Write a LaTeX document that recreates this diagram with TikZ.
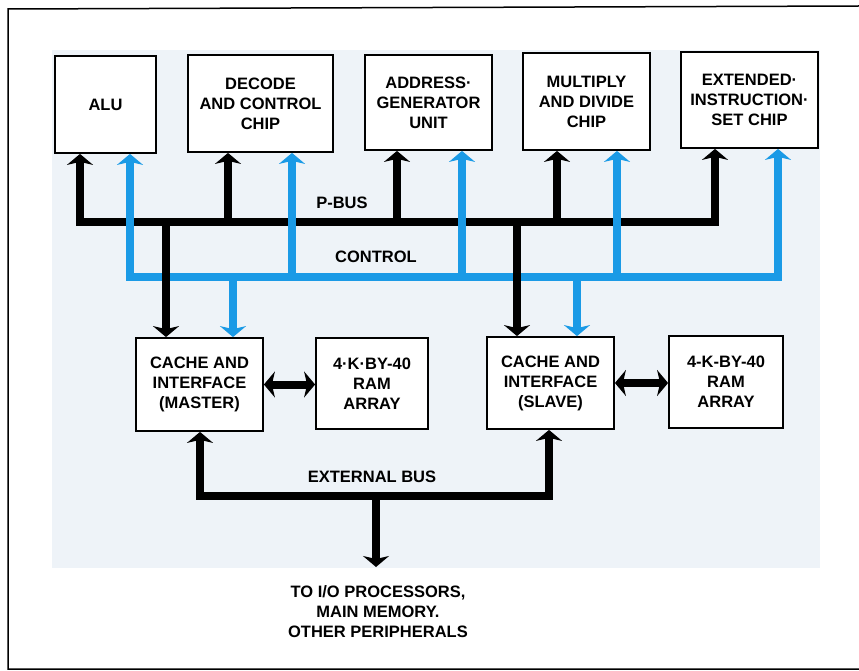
\documentclass[tikz,border=0pt]{standalone}
\usepackage{fontspec}
\setmainfont{Liberation Sans}
\usetikzlibrary{arrows.meta}
\definecolor{cblue}{RGB}{26,154,230}
\definecolor{panel}{RGB}{238,243,248}
\begin{document}
\begin{tikzpicture}[x=1pt,y=-1pt,
  box/.style={draw,line width=1.8pt,fill=white,align=center,inner sep=0pt,
    font=\bfseries\fontsize{16.5}{20}\selectfont},
  lbl/.style={align=center,inner sep=0pt,font=\bfseries\fontsize{16.5}{20}\selectfont},
  bbus/.style={line width=8pt,draw=black},
  cbus/.style={line width=8pt,draw=cblue},
  tipE/.style={-{Stealth[length=11pt,width=26pt,inset=3pt]}},
  tipB/.style={{Stealth[length=11pt,width=26pt,inset=3pt]}-{Stealth[length=11pt,width=26pt,inset=3pt]}},
]
\useasboundingbox (0,0) rectangle (859,671);
\fill[white] (0,0) rectangle (859,671);
\fill[panel] (52,50) rectangle (820,568);
\draw[line width=1.5pt] (859,6) -- (8,9) -- (8,669) -- (859,669);

% top boxes
\node[box,minimum width=101pt,minimum height=97pt] (alu) at (105.5,104.5) {ALU};
\node[box,minimum width=145pt,minimum height=97pt] (dec) at (260.5,103.5) {DECODE\\AND CONTROL\\CHIP};
\node[box,minimum width=127pt,minimum height=95pt] (agu) at (428.5,102.5) {ADDRESS·\\GENERATOR\\UNIT};
\node[box,minimum width=127pt,minimum height=97pt] (mul) at (586.5,101.5) {MULTIPLY\\AND DIVIDE\\CHIP};
\node[box,minimum width=137pt,minimum height=96pt] (ext) at (749.5,100) {EXTENDED·\\INSTRUCTION·\\SET CHIP};

% bottom boxes
\node[box,minimum width=127pt,minimum height=93pt] (mst) at (199.5,384.5) {CACHE AND\\INTERFACE\\(MASTER)};
\node[box,minimum width=112pt,minimum height=91pt] (ram1) at (372,383.5) {4·K·BY-40\\RAM\\ARRAY};
\node[box,minimum width=127pt,minimum height=92pt] (slv) at (550.5,383) {CACHE AND\\INTERFACE\\(SLAVE)};
\node[box,minimum width=114pt,minimum height=92pt] (ram2) at (726,382) {4-K-BY-40\\RAM\\ARRAY};

% bus coordinates
\coordinate (pL) at (80,222);   \coordinate (pR) at (715,222);
\coordinate (pD) at (228,222);  \coordinate (pA) at (397,222);
\coordinate (pM) at (557,222);
\coordinate (pm) at (166,222);  \coordinate (ps) at (517,222);
\coordinate (cL) at (130,277);  \coordinate (cR) at (778,277);
\coordinate (cD) at (292,277);  \coordinate (cA) at (462,277);
\coordinate (cM) at (617,277);
\coordinate (cm) at (233,277);  \coordinate (cs) at (577,277);
\coordinate (eL) at (200,496);  \coordinate (eR) at (549,496);
\coordinate (eM) at (376,496);  \coordinate (eO) at (376,567);

% P-bus horizontal with end branches
\draw[bbus,tipB] (alu.south -| pL) -- (pL) -- (pR) -- (ext.south -| pR);
% control horizontal with end branches
\draw[cbus,tipB] (alu.south -| cL) -- (cL) -- (cR) -- (ext.south -| cR);
% black branches
\draw[bbus,tipE] (pD) -- (dec.south -| pD);
\draw[bbus,tipE] (pA) -- (agu.south -| pA);
\draw[bbus,tipE] (pM) -- (mul.south -| pM);
\draw[bbus,tipE] (pm) -- (mst.north -| pm);
\draw[bbus,tipE] (ps) -- (slv.north -| ps);
% blue branches
\draw[cbus,tipE] (cD) -- (dec.south -| cD);
\draw[cbus,tipE] (cA) -- (agu.south -| cA);
\draw[cbus,tipE] (cM) -- (mul.south -| cM);
\draw[cbus,tipE] (cm) -- (mst.north -| cm);
\draw[cbus,tipE] (cs) -- (slv.north -| cs);

% cache - RAM links
\draw[bbus,tipB] (mst.east) -- (mst.east -| ram1.west);
\draw[bbus,tipB] (slv.east) -- (slv.east -| ram2.west);

% external bus
\draw[bbus,tipB] (mst.south -| eL) -- (eL) -- (eR) -- (slv.south -| eR);
\draw[bbus,tipE] (eM) -- (eO);

% labels
\node[lbl] (lp) at (342,203) {P-BUS};
\node[lbl] (lc) at (376,257) {CONTROL};
\node[lbl] (le) at (372,477) {EXTERNAL BUS};
\node[lbl] (lo) at (378,612) {TO I/O PROCESSORS,\\MAIN MEMORY.\\OTHER PERIPHERALS};
\end{tikzpicture}
\end{document}
